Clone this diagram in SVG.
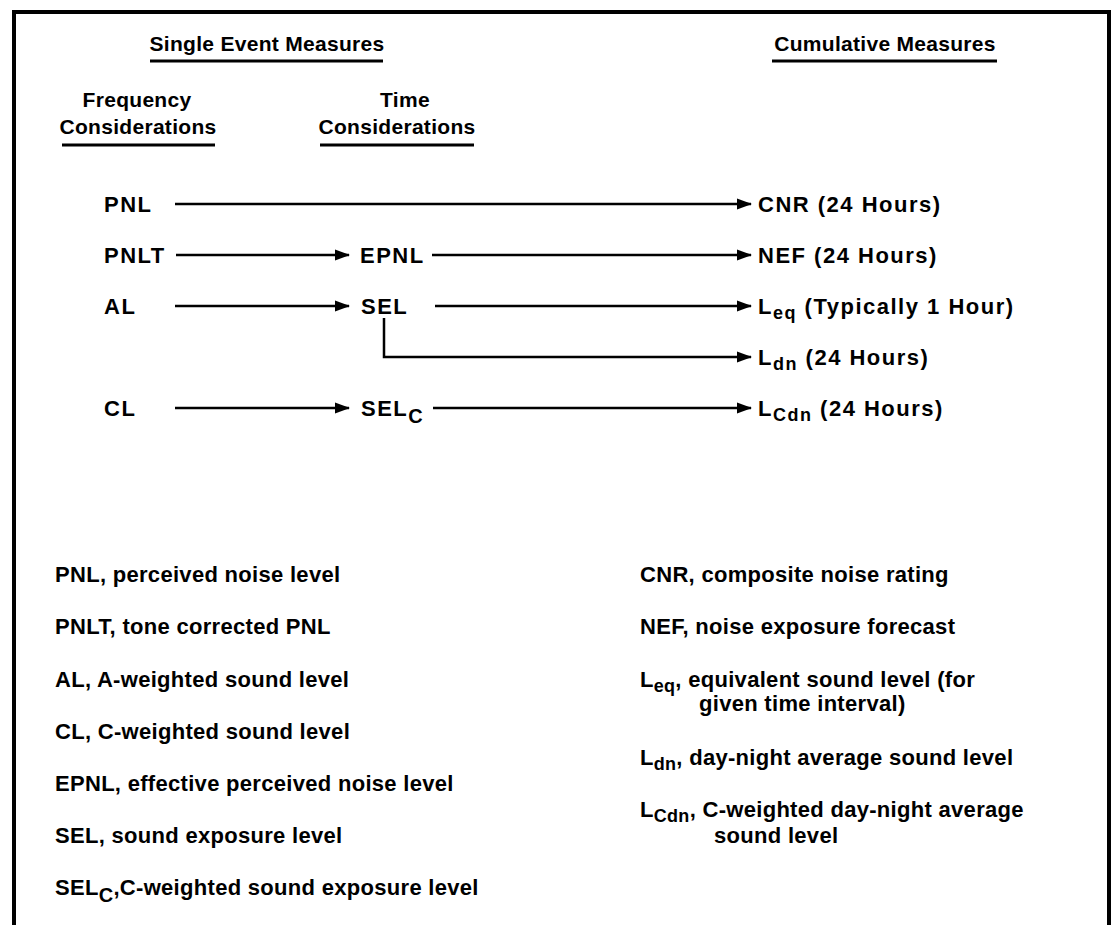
<svg xmlns="http://www.w3.org/2000/svg" width="1118" height="925" viewBox="0 0 1118 925">
<defs>
<marker id="ah" markerWidth="15" markerHeight="12" refX="14" refY="6" orient="auto" markerUnits="userSpaceOnUse">
<path d="M0,0.5 L15,6 L0,11.5 Z" fill="#000"/>
</marker>
</defs>
<style>
text{font-family:"Liberation Sans",Arial,sans-serif;font-weight:bold;font-size:22px;fill:#000}
.h{font-size:21px;letter-spacing:0.3px}
.c{text-anchor:middle}
.n text{letter-spacing:1.5px}
.lg text{letter-spacing:0.3px}
.sub{font-size:18px}
.subc{font-size:20px}
.conn line,.conn path{stroke:#000;stroke-width:2.5;fill:none}
.ul{stroke:#000;stroke-width:3}
.frame{stroke:#000;stroke-width:4;fill:none}
</style>
<rect width="1118" height="925" fill="#fff"/>
<path class="frame" d="M14,925 V12 H1109 V925"/>

<g id="headings">
<text class="h c" x="267" y="51">Single Event Measures</text>
<line class="ul" x1="150" y1="61" x2="383" y2="61"/>
<text class="h c" x="885" y="51">Cumulative Measures</text>
<line class="ul" x1="772" y1="61" x2="997" y2="61"/>
<text class="h c" x="137" y="107">Frequency</text>
<text class="h c" x="138" y="134">Considerations</text>
<line class="ul" x1="62" y1="145" x2="215" y2="145"/>
<text class="h c" x="405" y="107">Time</text>
<text class="h c" x="397" y="134">Considerations</text>
<line class="ul" x1="320" y1="145" x2="474" y2="145"/>
</g>

<g class="n">
<g id="node-PNL"><text x="104" y="212">PNL</text></g>
<g id="node-PNLT"><text x="104" y="263">PNLT</text></g>
<g id="node-AL"><text x="104" y="314">AL</text></g>
<g id="node-CL"><text x="104" y="416">CL</text></g>
<g id="node-EPNL"><text x="360" y="263">EPNL</text></g>
<g id="node-SEL"><text x="361" y="314">SEL</text></g>
<g id="node-SELC"><text x="361" y="416">SEL<tspan class="subc" dy="7">C</tspan></text></g>
<g id="node-CNR"><text x="758" y="212">CNR (24 Hours)</text></g>
<g id="node-NEF"><text x="758" y="263">NEF (24 Hours)</text></g>
<g id="node-Leq"><text x="758" y="314">L<tspan class="sub" dy="5">eq</tspan><tspan dy="-5"> (Typically 1 Hour)</tspan></text></g>
<g id="node-Ldn"><text x="758" y="365">L<tspan class="sub" dy="5">dn</tspan><tspan dy="-5"> (24 Hours)</tspan></text></g>
<g id="node-LCdn"><text x="758" y="416">L<tspan class="sub" dy="5">Cdn</tspan><tspan dy="-5"> (24 Hours)</tspan></text></g>
</g>

<g id="connectors" class="conn">
<line x1="175" y1="204" x2="751" y2="204" marker-end="url(#ah)"/>
<line x1="176" y1="255" x2="349" y2="255" marker-end="url(#ah)"/>
<line x1="432" y1="255" x2="751" y2="255" marker-end="url(#ah)"/>
<line x1="175" y1="306" x2="349" y2="306" marker-end="url(#ah)"/>
<line x1="435" y1="306" x2="751" y2="306" marker-end="url(#ah)"/>
<path d="M384,318 V357 H751" marker-end="url(#ah)"/>
<line x1="175" y1="408" x2="349" y2="408" marker-end="url(#ah)"/>
<line x1="433" y1="408" x2="751" y2="408" marker-end="url(#ah)"/>
</g>

<g id="legend-left" class="lg">
<text x="55" y="582">PNL, perceived noise level</text>
<text x="55" y="634">PNLT, tone corrected PNL</text>
<text x="55" y="687">AL, A-weighted sound level</text>
<text x="55" y="739">CL, C-weighted sound level</text>
<text x="55" y="791">EPNL, effective perceived noise level</text>
<text x="55" y="843">SEL, sound exposure level</text>
<text x="55" y="895">SEL<tspan class="subc" dy="7">C</tspan><tspan dy="-7">,C-weighted sound exposure level</tspan></text>
</g>

<g id="legend-right" class="lg">
<text x="640" y="582">CNR, composite noise rating</text>
<text x="640" y="634">NEF, noise exposure forecast</text>
<text x="640" y="687">L<tspan class="sub" dy="5">eq</tspan><tspan dy="-5">, equivalent sound level (for</tspan></text>
<text x="699" y="711">given time interval)</text>
<text x="640" y="765">L<tspan class="sub" dy="5">dn</tspan><tspan dy="-5">, day-night average sound level</tspan></text>
<text x="640" y="817">L<tspan class="sub" dy="5">Cdn</tspan><tspan dy="-5">, C-weighted day-night average</tspan></text>
<text x="714" y="843">sound level</text>
</g>
</svg>
